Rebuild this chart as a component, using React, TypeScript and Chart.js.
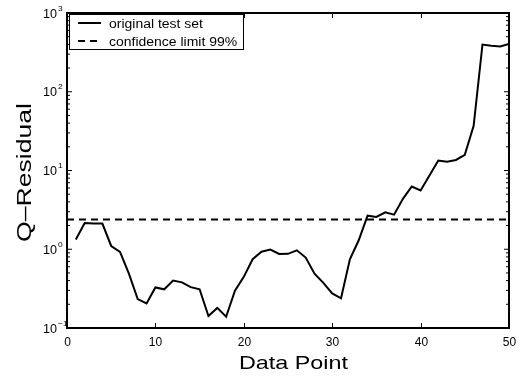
import React, { useEffect, useRef } from "react";
import { Chart, registerables } from "chart.js";

Chart.register(...registerables);

const dataPoints = Array.from({ length: 50 }, (_, i) => i + 1);
const qResidual = [
  1.33, 2.15, 2.12, 2.12, 1.1, 0.925, 0.49, 0.233, 0.205, 0.327,
  0.31, 0.4, 0.38, 0.33, 0.31, 0.142, 0.18, 0.139, 0.297, 0.446,
  0.747, 0.93, 0.99, 0.87, 0.875, 0.97, 0.785, 0.49, 0.375, 0.275,
  0.238, 0.746, 1.3, 2.67, 2.57, 2.94, 2.75, 4.37, 6.27, 5.58,
  8.64, 13.4, 12.9, 13.6, 15.8, 37, 398, 384, 376, 405,
];
const limitX = [0, 50];
const confidenceLimit = 2.38;
const xTicks = [0, 10, 20, 30, 40, 50];
const yTickExponents = [-1, 0, 1, 2, 3];
const seriesLabels = ["original test set", "confidence limit 99%"];
const xTitle = "Data Point";
const yTitle = "Q\u2013Residual";

const FONT = '"Liberation Sans", Arial, Helvetica, sans-serif';

function drawText(
  ctx: CanvasRenderingContext2D,
  text: string,
  x: number,
  y: number,
  size: number,
  align: CanvasTextAlign,
  sx: number,
  rotate = 0
) {
  ctx.save();
  ctx.translate(x, y);
  if (rotate) ctx.rotate(rotate);
  ctx.scale(sx, 1);
  ctx.font = `${size}px ${FONT}`;
  ctx.textAlign = align;
  ctx.textBaseline = "alphabetic";
  ctx.fillStyle = "#000";
  ctx.fillText(text, 0, 0);
  ctx.restore();
}

function fitScale(ctx: CanvasRenderingContext2D, text: string, size: number, target: number) {
  ctx.save();
  ctx.font = `${size}px ${FONT}`;
  const w = ctx.measureText(text).width;
  ctx.restore();
  return w > 0 ? target / w : 1;
}

const framePlugin = {
  id: "matlabFrame",
  afterDraw(chart: any) {
    const { ctx, chartArea } = chart;
    const { left, right, top, bottom } = chartArea;
    const xs = chart.scales.x;
    const ys = chart.scales.y;
    ctx.save();
    ctx.strokeStyle = "#000";
    ctx.lineWidth = 2;
    ctx.setLineDash([]);
    ctx.strokeRect(left, top, right - left, bottom - top);

    // x ticks
    ctx.lineWidth = 1;
    xTicks.forEach((v) => {
      const px = Math.round(xs.getPixelForValue(v)) + 0.5;
      ctx.beginPath();
      ctx.moveTo(px, bottom);
      ctx.lineTo(px, bottom - 5);
      ctx.moveTo(px, top);
      ctx.lineTo(px, top + 5);
      ctx.stroke();
      drawText(ctx, String(v), px, bottom + 18, 12, "center", 1.0);
    });

    // y ticks
    yTickExponents.forEach((e) => {
      const py = ys.getPixelForValue(Math.pow(10, e));
      ctx.beginPath();
      ctx.moveTo(left, py);
      ctx.lineTo(left + 5, py);
      ctx.moveTo(right, py);
      ctx.lineTo(right - 5, py);
      ctx.stroke();
      if (e < yTickExponents[yTickExponents.length - 1]) {
        for (let m = 2; m <= 9; m++) {
          const pm = ys.getPixelForValue(m * Math.pow(10, e));
          ctx.beginPath();
          ctx.moveTo(left, pm);
          ctx.lineTo(left + 3, pm);
          ctx.moveTo(right, pm);
          ctx.lineTo(right - 3, pm);
          ctx.stroke();
        }
      }
      drawText(ctx, "10", 57, py + 4.5, 12, "right", 1.05);
      drawText(ctx, String(e).replace("-", "\u2212"), 58, py - 2.5, 8, "left", 1.05);
    });

    // axis titles
    const sxX = fitScale(ctx, xTitle, 19, 109);
    drawText(ctx, xTitle, 293.5, 369, 19, "center", sxX);
    const sxY = fitScale(ctx, yTitle, 21, 139);
    drawText(ctx, yTitle, 31, 172.5, 21, "center", sxY, -Math.PI / 2);

    // legend
    const bx = 69, by = 14, bw = 174, bh = 35;
    ctx.fillStyle = "#fff";
    ctx.fillRect(bx, by, bw, bh);
    ctx.lineWidth = 1;
    ctx.strokeRect(bx + 0.5, by + 0.5, bw, bh);
    const rows = [23, 41];
    chart.data.datasets.forEach((ds: any, i: number) => {
      const ly = rows[i];
      ctx.save();
      ctx.strokeStyle = ds.borderColor;
      ctx.lineWidth = ds.borderWidth;
      ctx.setLineDash(ds.borderDash || []);
      ctx.beginPath();
      ctx.moveTo(78, ly);
      ctx.lineTo(101, ly);
      ctx.stroke();
      ctx.restore();
      const sx = fitScale(ctx, seriesLabels[0], 12, 94);
      drawText(ctx, ds.label, 109, ly + 4.5, 12, "left", sx);
    });
    ctx.restore();
  },
};

export default function App() {
  const canvasRef = useRef<HTMLCanvasElement | null>(null);

  useEffect(() => {
    if (!canvasRef.current) return;
    const chart = new Chart(canvasRef.current, {
      type: "line",
      data: {
        datasets: [
          {
            label: seriesLabels[0],
            data: dataPoints.map((x, i) => ({ x, y: qResidual[i] })),
            borderColor: "#000",
            borderWidth: 2,
            pointRadius: 0,
            tension: 0,
            fill: false,
          },
          {
            label: seriesLabels[1],
            data: limitX.map((x) => ({ x, y: confidenceLimit })),
            borderColor: "#000",
            borderWidth: 2,
            borderDash: [7, 5],
            pointRadius: 0,
            fill: false,
          },
        ],
      },
      options: {
        responsive: false,
        animation: false,
        parsing: false as any,
        layout: { padding: { left: 67, right: 12, top: 13, bottom: 50 } },
        plugins: { legend: { display: false }, tooltip: { enabled: false } },
        scales: {
          x: { type: "linear", min: 0, max: 50, display: false },
          y: { type: "logarithmic", min: 0.1, max: 1000, display: false },
        },
      },
      plugins: [framePlugin],
    });
    return () => chart.destroy();
  }, []);

  return (
    <div style={{ position: "fixed", left: 0, top: 0, width: 521, height: 378, background: "#fff" }}>
      <canvas ref={canvasRef} width={521} height={378} />
    </div>
  );
}
